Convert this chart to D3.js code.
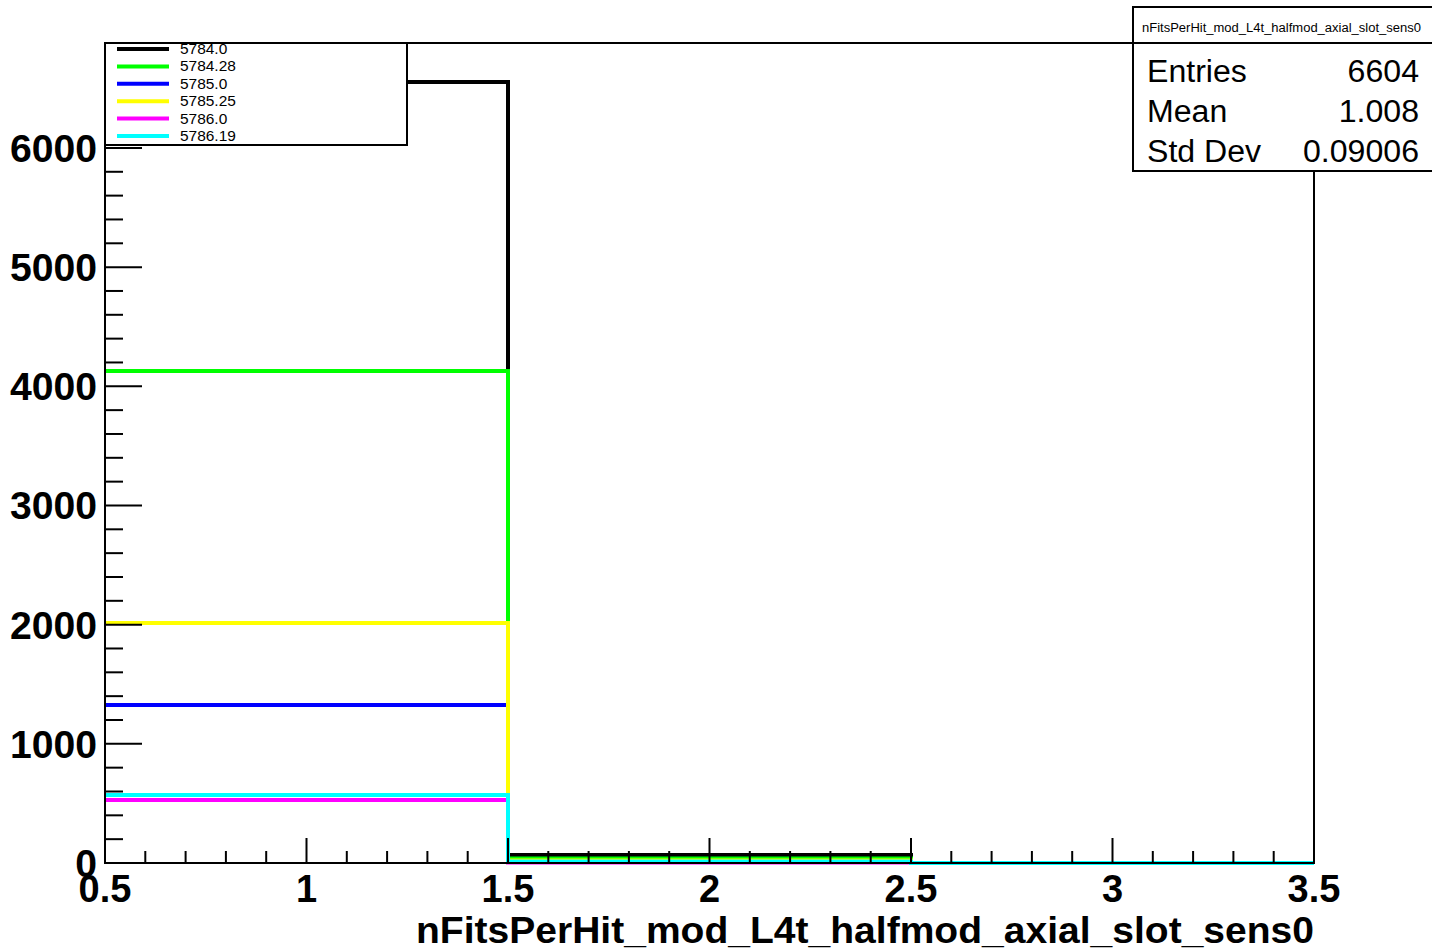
<!DOCTYPE html>
<html><head><meta charset="utf-8">
<script src="https://cdn.jsdelivr.net/npm/d3@7"></script>
<style>body{margin:0;background:#fff}svg{display:block}text{font-family:"Liberation Sans",Arial,sans-serif}</style>
</head><body>
<svg id="c" width="1432" height="948"></svg>
<script>
const binEdges = [0.5, 1.5, 2.5, 3.5];
const seriesNames = ["5784.0", "5784.28", "5785.0", "5785.25", "5786.0", "5786.19"];
const seriesColors = ["#000000", "#00ff00", "#0000ff", "#ffff00", "#ff00ff", "#00ffff"];
const seriesValues = [
  [6553, 68, 0],
  [4128, 38, 0],
  [1326, 8, 0],
  [2014, 20, 0],
  [529, 5, 0],
  [571, 12, 0]
];
const xTicks = [0.5, 1, 1.5, 2, 2.5, 3, 3.5];
const xTickLabels = ["0.5", "1", "1.5", "2", "2.5", "3", "3.5"];
const yTicks = [0, 1000, 2000, 3000, 4000, 5000, 6000];
const yTickLabels = ["0", "1000", "2000", "3000", "4000", "5000", "6000"];
const histTitle = "nFitsPerHit_mod_L4t_halfmod_axial_slot_sens0";
const statLabels = ["Entries", "Mean", "Std Dev"];
const statValues = ["6604", "1.008", "0.09006"];

const L = 105, R = 1314, T = 43, B = 863;
const svg = d3.select("#c");
const yMax = d3.max(seriesValues.flat()) * 1.05;
const x = d3.scaleLinear().domain([0.5, 3.5]).range([L, R]);
const y = d3.scaleLinear().domain([0, yMax]).range([B, T]);

function widen(sel, k) {
  sel.each(function () {
    const w = this.getComputedTextLength();
    d3.select(this).attr("textLength", w * k).attr("lengthAdjust", "spacingAndGlyphs");
  });
}

// histograms
const line = d3.line().x(d => x(d[0])).y(d => y(d[1]));
seriesValues.forEach((vals, i) => {
  const pts = [];
  vals.forEach((v, j) => { pts.push([binEdges[j], v]); pts.push([binEdges[j + 1], v]); });
  pts.push([binEdges[binEdges.length - 1], 0]);
  svg.append("path").attr("d", line(pts)).attr("fill", "none")
    .attr("stroke", seriesColors[i]).attr("stroke-width", 4);
});

// frame
svg.append("rect").attr("x", L).attr("y", T).attr("width", R - L).attr("height", B - T)
  .attr("fill", "none").attr("stroke", "#000").attr("stroke-width", 2);

// x axis ticks
const xMinor = d3.range(5, 36).map(v => v / 10);
svg.append("g").selectAll("line").data(xMinor).join("line")
  .attr("x1", d => x(d)).attr("x2", d => x(d)).attr("y1", B)
  .attr("y2", d => (Math.abs(d * 2 - Math.round(d * 2)) < 1e-6) ? B - 25 : B - 12)
  .attr("stroke", "#000").attr("stroke-width", 2);
svg.append("g").selectAll("text").data(xTicks).join("text")
  .attr("x", d => x(d)).attr("y", 902).attr("text-anchor", "middle")
  .attr("font-size", 38).attr("font-weight", "bold").text((d, i) => xTickLabels[i])
  .call(widen, 1.0);

// y axis ticks
const yMinor = d3.range(0, yMax, 200);
svg.append("g").selectAll("line").data(yMinor).join("line")
  .attr("x1", L).attr("x2", d => (d % 1000 === 0) ? L + 37 : L + 18)
  .attr("y1", d => y(d)).attr("y2", d => y(d))
  .attr("stroke", "#000").attr("stroke-width", 2);
svg.append("g").selectAll("text").data(yTicks).join("text")
  .attr("x", 97).attr("y", d => y(d) + 14).attr("text-anchor", "end")
  .attr("font-size", 38).attr("font-weight", "bold").text((d, i) => yTickLabels[i])
  .call(widen, 1.03);

// axis title
svg.append("text").attr("x", R).attr("y", 943).attr("text-anchor", "end")
  .attr("font-size", 36).attr("font-weight", "bold").text(histTitle)
  .attr("textLength", 898).attr("lengthAdjust", "spacingAndGlyphs");

// legend
const lg = svg.append("g");
lg.append("rect").attr("x", L).attr("y", T).attr("width", 302).attr("height", 102)
  .attr("fill", "#fff").attr("stroke", "#000").attr("stroke-width", 2);
seriesNames.forEach((n, i) => {
  const cy = 49 + i * 17.4;
  lg.append("line").attr("x1", 117).attr("x2", 169).attr("y1", cy).attr("y2", cy)
    .attr("stroke", seriesColors[i]).attr("stroke-width", 4);
  lg.append("text").attr("x", 180).attr("y", cy + 5).attr("font-size", 15).text(n)
    .call(widen, 1.03);
});

// stats box
const sb = svg.append("g");
sb.append("rect").attr("x", 1133).attr("y", 7).attr("width", 300).attr("height", 164)
  .attr("fill", "#fff").attr("stroke", "#000").attr("stroke-width", 2);
sb.append("line").attr("x1", 1133).attr("x2", 1432).attr("y1", 43).attr("y2", 43)
  .attr("stroke", "#000").attr("stroke-width", 2);
sb.append("text").attr("x", 1281.5).attr("y", 32).attr("text-anchor", "middle")
  .attr("font-size", 12.5).text(histTitle)
  .attr("textLength", 279).attr("lengthAdjust", "spacingAndGlyphs");
statLabels.forEach((s, i) => {
  const by = 82 + i * 40;
  sb.append("text").attr("x", 1147).attr("y", by).attr("font-size", 31).text(s)
    .call(widen, 1.035);
  sb.append("text").attr("x", 1419).attr("y", by).attr("text-anchor", "end")
    .attr("font-size", 31).text(statValues[i]).call(widen, 1.035);
});
</script>
</body></html>
